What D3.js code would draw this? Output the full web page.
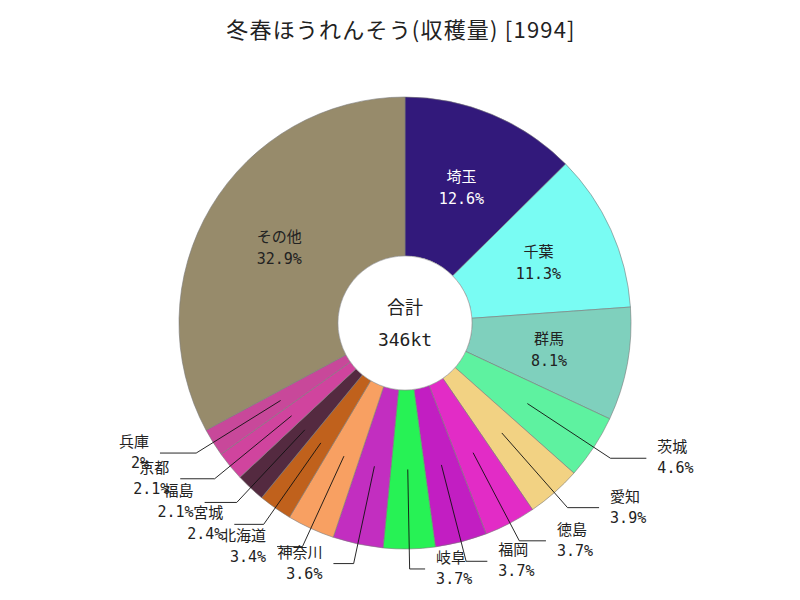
<!DOCTYPE html>
<html>
<head>
<meta charset="utf-8">
<script src="https://cdn.jsdelivr.net/npm/d3@7"></script>
<style>
    body { margin: 0; background: #fff; }
    text { font-family: "DejaVu Sans Mono", "Noto Sans CJK JP", monospace; }
</style>
</head>
<body>
<svg id="chart" width="800" height="600"></svg>
<script>
// share of 1994 harvest, clockwise from the top
var prefectures = ['埼玉', '千葉', '群馬', '茨城', '愛知', '徳島', '福岡', '岐阜',
                   '神奈川', '北海道', '宮城', '福島', '京都', '兵庫', 'その他'];
var shares      = [12.6, 11.3, 8.1, 4.6, 3.9, 3.7, 3.7, 3.7,
                   3.6, 3.4, 2.4, 2.1, 2.1, 2, 32.9];
var sliceColors = ['#32197b', '#79fcf3', '#7fd0bd', '#5ef2a0', '#f2d283', '#e22cc6', '#c21ec2', '#27f255',
                   '#c22ec0', '#f8a062', '#c0611c', '#542a40', '#d0449e', '#c8489a', '#978b6b'];
var totalText   = '346kt';
var chartTitle  = '冬春ほうれんそう(収穫量) [1994]';

(function (d3) {
    'use strict';

    var cx = 405, cy = 323,
        outerR = 226, innerR = 67,
        midR = (innerR + outerR) / 2,
        elbowR = 246,
        insideMin = 5; // slices smaller than this get an outside label

    var svg = d3.select('#chart');

    svg.append('text')
        .attr('x', 401).attr('y', 28)
        .attr('text-anchor', 'middle')
        .attr('dominant-baseline', 'central')
        .style('font-family', '"Noto Sans CJK JP", sans-serif')
        .style('font-size', '22px')
        .style('letter-spacing', '1.2px')
        .attr('fill', '#222')
        .text(chartTitle);

    var data = prefectures.map(function (name, i) {
        return { name: name, value: shares[i], color: sliceColors[i] };
    });

    var pie = d3.pie().sort(null).value(function (d) { return d.value; }),
        arc = d3.arc().innerRadius(innerR).outerRadius(outerR),
        arcs = pie(data);

    var g = svg.append('g').attr('transform', 'translate(' + cx + ',' + cy + ')');

    g.selectAll('path.slice').data(arcs).enter().append('path')
        .attr('class', 'slice')
        .attr('d', arc)
        .attr('fill', function (d) { return d.data.color; })
        .attr('stroke', '#7a7a7a')
        .attr('stroke-width', 0.6);

    g.append('circle')
        .attr('r', innerR)
        .attr('fill', '#fff')
        .attr('stroke', '#9a9a9a')
        .attr('stroke-width', 0.6);

    g.append('text')
        .attr('y', -16)
        .attr('text-anchor', 'middle')
        .attr('dominant-baseline', 'central')
        .style('font-size', '18px')
        .attr('fill', '#222')
        .text('合計');
    g.append('text')
        .attr('y', 16)
        .attr('text-anchor', 'middle')
        .attr('dominant-baseline', 'central')
        .style('font-size', '18px')
        .attr('fill', '#222')
        .text(totalText);

    function midAngle(d) {
        return (d.startAngle + d.endAngle) / 2;
    }

    function polar(a, r) {
        return [Math.sin(a) * r, -Math.cos(a) * r];
    }

    function pct(v) {
        return v + '%';
    }

    // labels inside the ring
    var inside = g.selectAll('g.inside').data(arcs.filter(function (d) { return d.data.value >= insideMin; }))
        .enter().append('g')
        .attr('class', 'inside')
        .attr('transform', function (d) {
            return 'translate(' + polar(midAngle(d), midR) + ')';
        })
        .attr('fill', function (d) {
            return d3.lab(d.data.color).l < 40 ? '#fff' : '#222';
        })
        .style('font-size', '15px')
        .attr('text-anchor', 'middle');

    inside.append('text')
        .attr('y', -11)
        .attr('dominant-baseline', 'central')
        .text(function (d) { return d.data.name; });
    inside.append('text')
        .attr('y', 11)
        .attr('dominant-baseline', 'central')
        .text(function (d) { return pct(d.data.value); });

    // labels outside with leader lines
    var outside = g.selectAll('g.outside').data(arcs.filter(function (d) { return d.data.value < insideMin; }))
        .enter().append('g')
        .attr('class', 'outside');

    outside.each(function (d) {
        var a = midAngle(d),
            s = Math.sin(a) >= 0 ? 1 : -1,
            p0 = polar(a, midR),
            p1 = polar(a, elbowR),
            h = 15 + 25 * Math.abs(Math.sin(a)),
            p2 = [p1[0] + s * h, p1[1]],
            node = d3.select(this);

        node.append('path')
            .attr('d', d3.line()([p0, p1, p2]))
            .attr('fill', 'none')
            .attr('stroke', '#111')
            .attr('stroke-width', 0.9);

        var t = node.append('g')
            .attr('transform', 'translate(' + (p2[0] + s * 11) + ',' + p2[1] + ')')
            .attr('text-anchor', s > 0 ? 'start' : 'end')
            .attr('fill', '#222')
            .style('font-size', '15px');

        t.append('text')
            .attr('y', -11)
            .attr('dominant-baseline', 'central')
            .text(d.data.name);
        t.append('text')
            .attr('y', 10)
            .attr('dominant-baseline', 'central')
            .text(pct(d.data.value));
    });
}(window.d3));
</script>
</body>
</html>
